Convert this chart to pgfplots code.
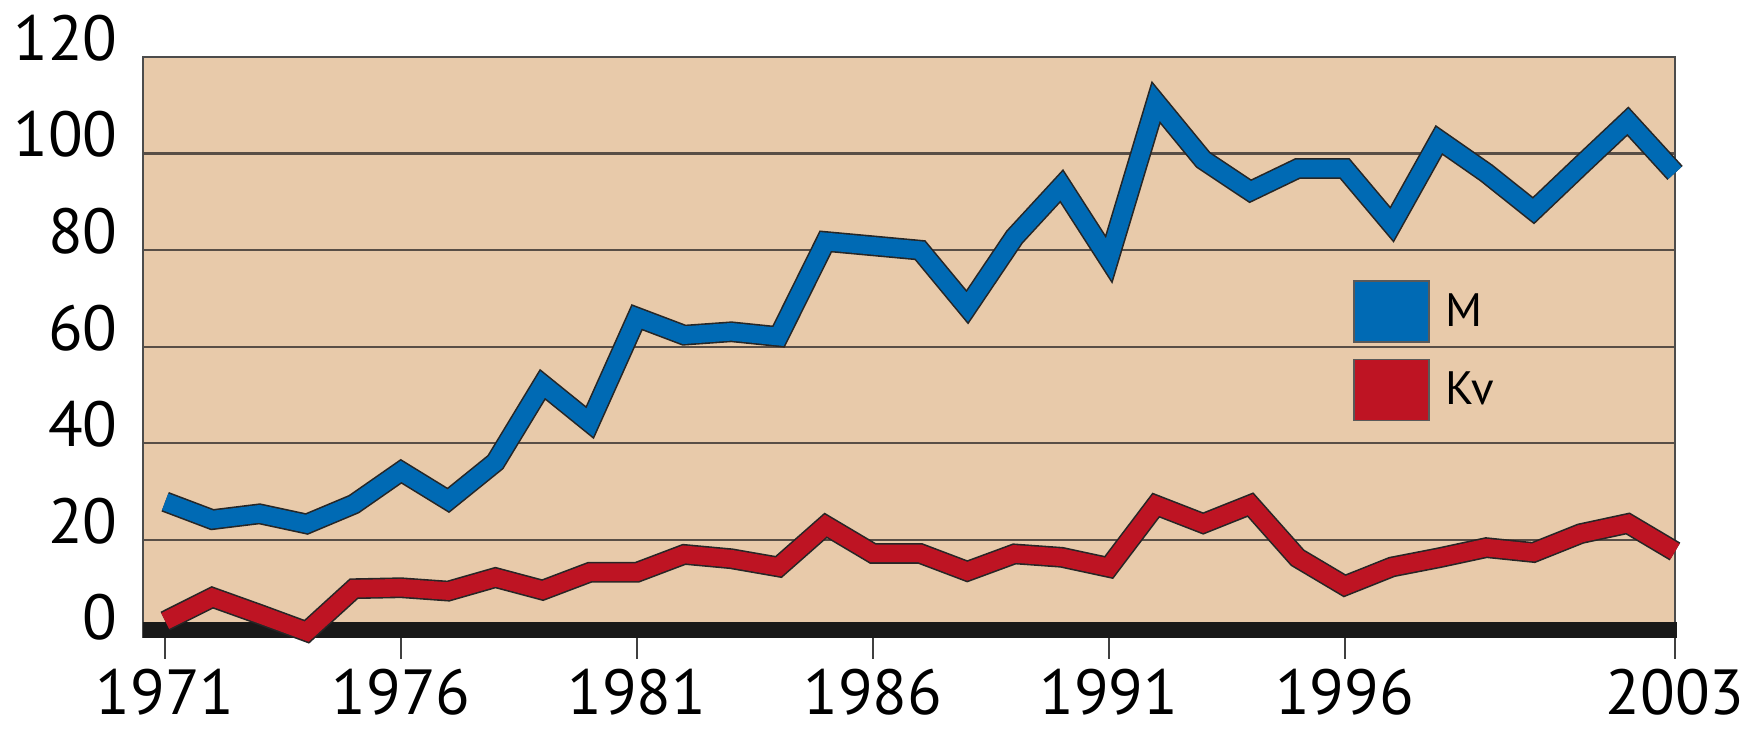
\documentclass[border=0pt]{standalone}
\usepackage{fontspec}
\setmainfont{PT Sans}
\usepackage{pgfplots}
\usepackage{pgfplotstable}
\pgfplotsset{compat=1.18}
\definecolor{bg}{RGB}{232,202,170}
\definecolor{mblue}{RGB}{0,106,180}
\definecolor{kred}{RGB}{190,20,35}
\definecolor{gridc}{RGB}{88,78,70}
\pgfplotstableread{
year M
1971 27.9
1972 24.2
1973 25.4
1974 23.3
1975 27.4
1976 34.2
1977 28.2
1978 36.1
1979 52.2
1980 44.3
1981 66.1
1982 62.4
1983 63.1
1984 62.1
1985 81.8
1986 80.9
1987 80.0
1988 68.2
1989 82.7
1990 93.3
1991 78.1
1992 110.6
1993 98.7
1994 92.2
1995 96.9
1996 96.9
1997 85.3
1998 102.8
1999 96.0
2000 88.2
2001 97.5
2002 106.7
2003 96.0
}\tabM
\pgfplotstableread{
year Kv
1971 3.2
1972 8.1
1973 4.6
1974 1.0
1975 9.9
1976 10.1
1977 9.4
1978 12.2
1979 9.6
1980 13.3
1981 13.3
1982 17.0
1983 16.1
1984 14.4
1985 23.0
1986 17.2
1987 17.2
1988 13.5
1989 17.1
1990 16.4
1991 14.3
1992 27.2
1993 23.4
1994 27.3
1995 16.3
1996 10.5
1997 14.4
1998 16.3
1999 18.4
2000 17.4
2001 21.3
2002 23.4
2003 17.6
}\tabKv
\begin{document}
\begin{tikzpicture}
\path[use as bounding box] (-71.5bp,-46.75bp) rectangle (804bp,318.25bp);
\begin{axis}[
  at={(0,0)}, anchor=south west,
  scale only axis, width=766bp, height=289.75bp,
  xmin=1970.53, xmax=2003, ymin=0, ymax=120,
  clip=false,
  axis background/.style={fill=bg},
  axis line style={draw=black!70, line width=1bp},
  xtick={1971,1976,1981,1986,1991,1996,2003},
  xticklabels={1971,1976,1981,1986,1991,1996,2003},
  ytick={0,20,...,120},
  ymajorgrids, grid style={draw=gridc, line width=1.1bp},
  tick align=inside, major tick length=11bp,
  xtick pos=bottom, ytick pos=left,
  xtick style={draw=black!75, line width=1bp, yshift=-11bp},
  ytick style={draw=none},
  xticklabel style={anchor=north, inner sep=0pt, yshift=-16bp},
  yticklabel style={anchor=east, inner sep=0pt, xshift=-12.5bp, yshift=9.5bp},
  ticklabel style={font=\fontsize{32}{36}\selectfont},
  /pgf/number format/assume math mode=true,
  legend cell align=left,
  legend style={at={(0.7898,0.6152)}, anchor=north west, draw=none, fill=none,
    inner sep=0pt, outer sep=0pt, row sep=8bp, column sep=8bp,
    font=\fontsize{23.5}{26}\selectfont, nodes={inner sep=0pt}},
]
\fill[black!90] (axis cs:1970.53,-0.4) rectangle (axis cs:2003.05,2.9);
\addplot[draw=black!85, line width=10.4bp, forget plot] table[x=year,y=M] {\tabM};
\addplot[draw=mblue, line width=8.8bp,
  legend image code/.code={\draw[line width=0.8bp, draw=black!65, fill=mblue] (0bp,-15.25bp) rectangle (37.5bp,15.25bp);}]
  table[x=year,y=M] {\tabM};
\addlegendentry{M}
\addplot[draw=black!85, line width=10.4bp, forget plot] table[x=year,y=Kv] {\tabKv};
\addplot[draw=kred, line width=8.8bp,
  legend image code/.code={\draw[line width=0.8bp, draw=black!65, fill=kred] (0bp,-15.25bp) rectangle (37.5bp,15.25bp);}]
  table[x=year,y=Kv] {\tabKv};
\addlegendentry{Kv}
\end{axis}
\end{tikzpicture}
\end{document}
